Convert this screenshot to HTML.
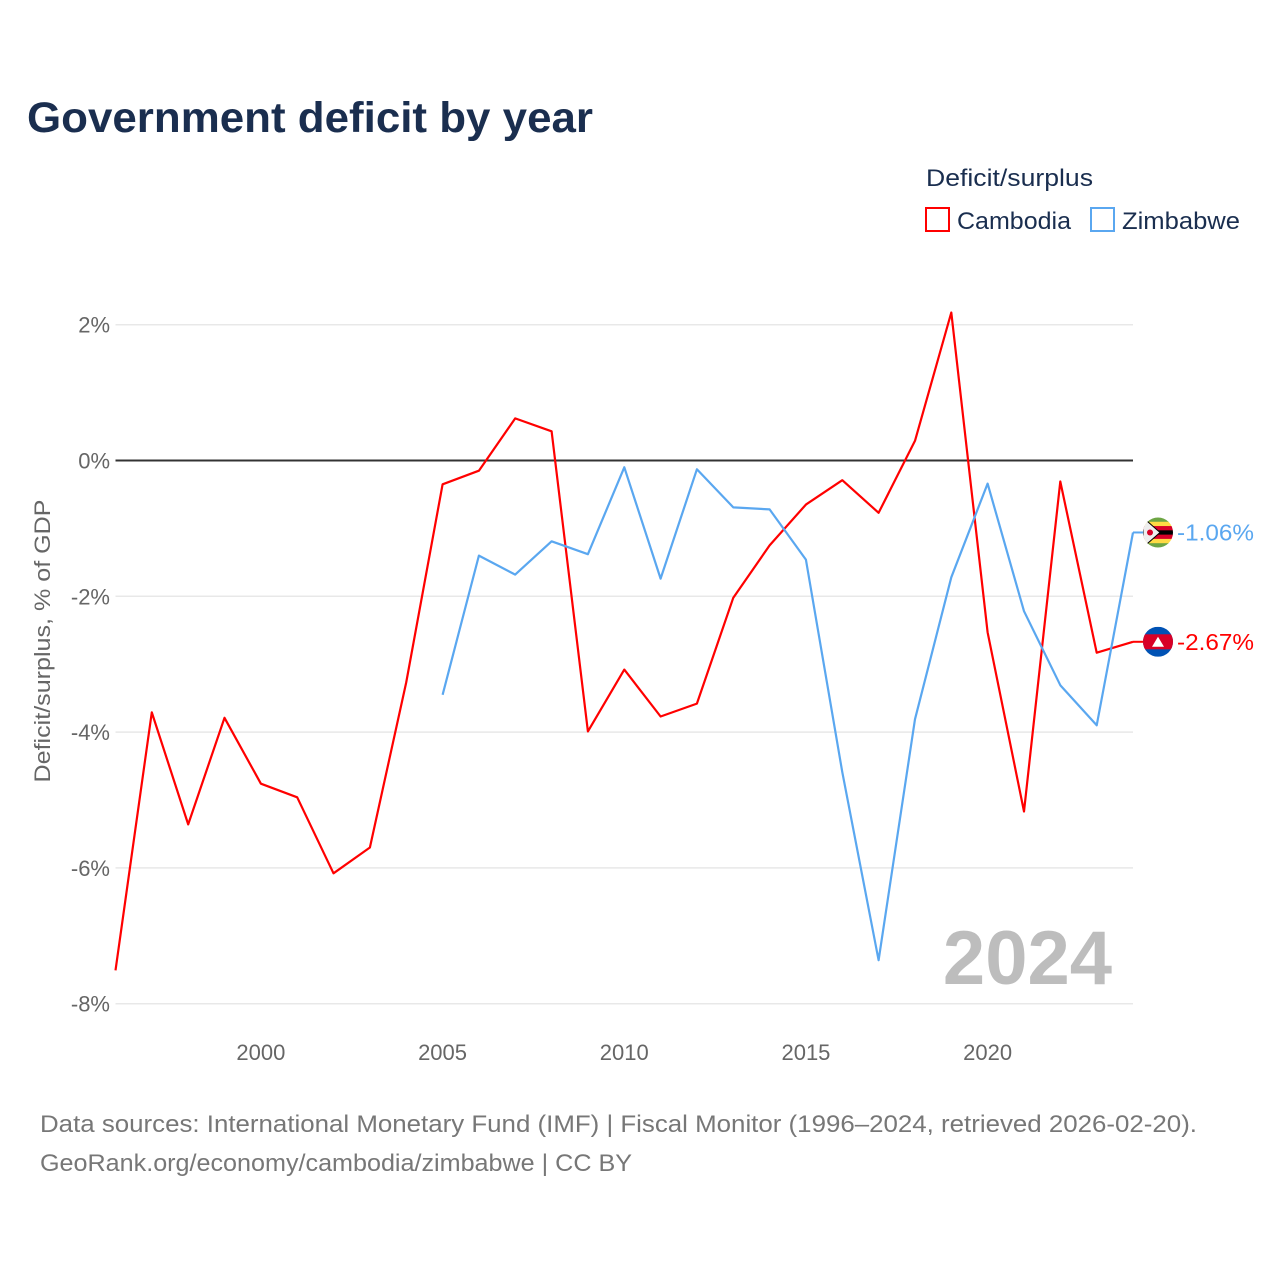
<!DOCTYPE html>
<html><head><meta charset="utf-8"><style>
html,body{margin:0;padding:0;background:#fff;}
body{width:1280px;height:1280px;position:relative;font-family:"Liberation Sans",sans-serif;overflow:hidden;}
</style></head><body>
<svg id="chart" width="1280" height="1280" xmlns="http://www.w3.org/2000/svg" font-family="Liberation Sans, sans-serif">
<text x="27" y="132" font-size="43" font-weight="bold" fill="#1a2e4f" textLength="566" lengthAdjust="spacingAndGlyphs">Government deficit by year</text>
<text x="926" y="186" font-size="24" fill="#1a2e4f" textLength="167" lengthAdjust="spacingAndGlyphs">Deficit/surplus</text>
<rect x="926" y="208" width="23" height="23" fill="none" stroke="#ff0000" stroke-width="2"/>
<text x="957" y="229" font-size="24" fill="#1a2e4f" textLength="114" lengthAdjust="spacingAndGlyphs">Cambodia</text>
<rect x="1091" y="208" width="23" height="23" fill="none" stroke="#5aa7f0" stroke-width="2"/>
<text x="1122" y="229" font-size="24" fill="#1a2e4f" textLength="118" lengthAdjust="spacingAndGlyphs">Zimbabwe</text>
<text transform="translate(50,641) rotate(-90)" text-anchor="middle" font-size="22" fill="#666" textLength="283" lengthAdjust="spacingAndGlyphs">Deficit/surplus, % of GDP</text>
<text x="1112" y="984" text-anchor="end" font-size="76" font-weight="bold" fill="#bdbdbd">2024</text>
<text x="40" y="1132" font-size="24" fill="#777" textLength="1157" lengthAdjust="spacingAndGlyphs">Data sources: International Monetary Fund (IMF) | Fiscal Monitor (1996–2024, retrieved 2026-02-20).</text>
<text x="40" y="1171" font-size="24" fill="#777" textLength="592" lengthAdjust="spacingAndGlyphs">GeoRank.org/economy/cambodia/zimbabwe | CC BY</text>
<g id="grid"></g><g id="series"></g><g id="labels"></g>
</svg>
<script>
const years=[1996,1997,1998,1999,2000,2001,2002,2003,2004,2005,2006,2007,2008,2009,2010,2011,2012,2013,2014,2015,2016,2017,2018,2019,2020,2021,2022,2023,2024];
const cambodia=[-7.51,-3.71,-5.36,-3.79,-4.76,-4.96,-6.08,-5.70,-3.27,-0.35,-0.15,0.62,0.43,-3.99,-3.08,-3.77,-3.58,-2.02,-1.25,-0.65,-0.29,-0.77,0.29,2.18,-2.53,-5.17,-0.31,-2.83,-2.67];
const zimbabwe=[null,null,null,null,null,null,null,null,null,-3.45,-1.40,-1.68,-1.19,-1.38,-0.10,-1.74,-0.13,-0.69,-0.72,-1.46,-4.59,-7.36,-3.81,-1.72,-0.34,-2.22,-3.31,-3.90,-1.06];
const yTicks=[2,0,-2,-4,-6,-8];
const xTicks=[2000,2005,2010,2015,2020];
const NS="http://www.w3.org/2000/svg";
const X0=115.5,X1=1133;
function xs(y){return X0+(y-1996)*(X1-X0)/28;}
function ys(v){return 460.5-v*67.9;}
function mk(t,a,p){const e=document.createElementNS(NS,t);for(const k in a)e.setAttribute(k,a[k]);p.appendChild(e);return e;}
const grid=document.getElementById('grid');
yTicks.forEach(v=>{
 const l=mk('line',{x1:X0,x2:X1,y1:ys(v),y2:ys(v),stroke:v===0?'#333':'#e8e8e8','stroke-width':v===0?2:1.5},grid);
 
 
 const t=mk('text',{x:110,y:ys(v)+8,'text-anchor':'end','font-size':22,fill:'#666'},grid);
 t.textContent=v+'%';
 
 
});
xTicks.forEach(y=>{
 const t=mk('text',{x:xs(y),y:1060,'text-anchor':'middle','font-size':22,fill:'#666'},grid);
 t.textContent=y;
 
 
});
const ser=document.getElementById('series');
function line(vals,color,name){
 let d='';vals.forEach((v,i)=>{if(v===null)return;d+=(d?'L':'M')+xs(years[i]).toFixed(1)+','+ys(v).toFixed(1);});
 const p=mk('path',{d:d,fill:'none',stroke:color,'stroke-width':2.2,'stroke-linejoin':'round'},ser);
 
 
}
line(cambodia,'#ff0000','line-cambodia');
line(zimbabwe,'#5aa7f0','line-zimbabwe');
const lab=document.getElementById('labels');
function endLabel(v,color,name,flag){
 const y=ys(v);
 mk('line',{x1:X1,x2:1145,y1:y,y2:y,stroke:color,'stroke-width':2},lab);
 const g=mk('g',{transform:'translate(1158,'+y+')'},lab);
 
 
 flag(g);
 const t=mk('text',{x:1177,y:y+8,'font-size':23,fill:color,textLength:77,lengthAdjust:'spacingAndGlyphs'},lab);
 t.textContent=v.toFixed(2)+'%';
 
 
}
endLabel(zimbabwe[28],'#5aa7f0','zimbabwe',g=>{
 const cp=mk('clipPath',{id:'cz'},g);mk('circle',{r:15},cp);
 const h=mk('g',{'clip-path':'url(#cz)'},g);
 const cols=['#6da544','#ffda44','#d80027','#000','#d80027','#ffda44','#6da544'];
 cols.forEach((c,i)=>mk('rect',{x:-15,y:-15+i*30/7,width:30,height:30/7+0.5,fill:c},h));
 mk('polygon',{points:'-15,-15 2,0 -15,15',fill:'#eee',stroke:'#000','stroke-width':1},h);
 mk('circle',{cx:-8,cy:0,r:3,fill:'#d80027'},h);
});
endLabel(cambodia[28],'#ff0000','cambodia',g=>{
 const cp=mk('clipPath',{id:'cc'},g);mk('circle',{r:15},cp);
 const h=mk('g',{'clip-path':'url(#cc)'},g);
 mk('rect',{x:-15,y:-15,width:30,height:30,fill:'#0052b4'},h);
 mk('rect',{x:-15,y:-7.5,width:30,height:15,fill:'#d80027'},h);
 mk('polygon',{points:'-6,5 0,-5 6,5',fill:'#fff'},h);
});
</script>
</body></html>
